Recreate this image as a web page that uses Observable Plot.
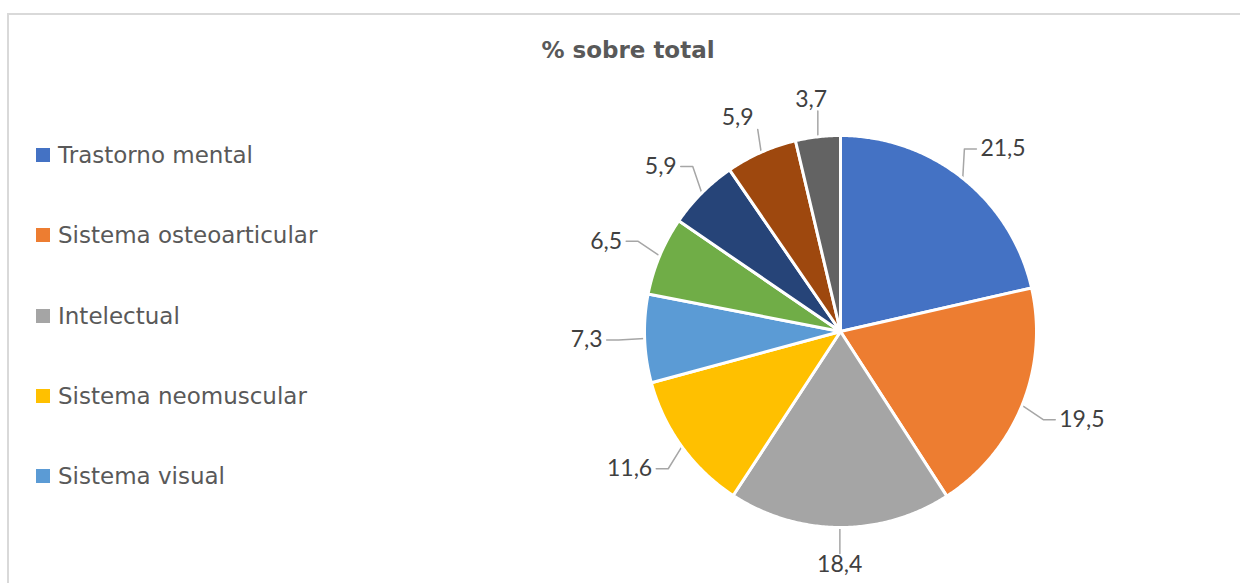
<!DOCTYPE html>
<html><head><meta charset="utf-8">
<script src="https://cdn.jsdelivr.net/npm/d3@7"></script>
<script src="https://cdn.jsdelivr.net/npm/@observablehq/plot@0.6"></script>
<style>
html,body{margin:0;padding:0;background:#fff;}
#wrap{position:relative;width:1240px;height:583px;overflow:hidden;background:#fff;}
#frame{position:absolute;left:7px;top:13px;width:1260px;height:620px;border-left:2px solid #d9d9d9;border-top:2px solid #d9d9d9;box-sizing:border-box;}
#chart{position:absolute;left:0;top:0;}
#title{position:absolute;left:628px;top:37px;transform:translateX(-50%);white-space:nowrap;font-family:"DejaVu Sans",sans-serif;font-weight:bold;font-size:23px;color:#595959;}
.lg{position:absolute;left:36px;display:flex;align-items:center;white-space:nowrap;font-family:"DejaVu Sans",sans-serif;font-size:23px;color:#595959;}
.lg .sw{width:14px;height:14px;margin-right:8px;flex:none;}
</style>
</head><body>
<div id="wrap">
  <div id="frame"></div>
  <div id="chart"></div>
  <div id="title"></div>
  <div id="legend"></div>
</div>
<script>
// ---- data ----
const title = "% sobre total";
const legendLabels = ["Trastorno mental","Sistema osteoarticular","Intelectual","Sistema neomuscular","Sistema visual"];
const values = [21.5, 19.5, 18.4, 11.6, 7.3, 6.5, 5.9, 5.9, 3.7];
const colors = ["#4472C4","#ED7D31","#A5A5A5","#FFC000","#5B9BD5","#70AD47","#264478","#9E480E","#636363"];

// ---- layout ----
const W = 1240, H = 583;
const R = 196;             // pie radius in px
const CX = 840, CY = 331;  // pie centre in px
const fmt = v => v.toFixed(1).replace(".", ",");

const arcs = d3.pie().sort(null).value(d => d)(values);

// slice polygons in unit coordinates (y up, 0 rad at 12 o'clock, clockwise)
const polys = [];
arcs.forEach((a, i) => {
  polys.push({i, x: 0, y: 0});
  const n = Math.max(2, Math.ceil((a.endAngle - a.startAngle) / (Math.PI / 360)));
  for (let k = 0; k <= n; k++) {
    const t = a.startAngle + (a.endAngle - a.startAngle) * k / n;
    polys.push({i, x: Math.sin(t), y: Math.cos(t)});
  }
  polys.push({i, x: 0, y: 0});
});

// labels + leader lines
const labels = [], leaders = [];
const gapX = 42, gapY = 29;
const fs = 23;
arcs.forEach((a, i) => {
  const m = (a.startAngle + a.endAngle) / 2;
  const s = Math.sin(m), c = Math.cos(m);
  const txt = fmt(values[i]);
  const w = (txt.length - 1) * fs * 0.58 + fs * 0.23, h = fs * 0.75;
  const hw = w / 2, hh = h / 2;
  const lx = s * (R + gapX + hw), ly = c * (R + gapY + hh); // px, y up
  labels.push({x: lx / R, y: ly / R, text: txt});
  // leader: from arc edge to label box
  const p0 = {x: s * R, y: c * R};
  const bx0 = lx - hw - 4, bx1 = lx + hw + 4, by0 = ly - hh - 3, by1 = ly + hh + 3;
  const qx = Math.min(Math.max(p0.x, bx0), bx1);
  const qy = Math.min(Math.max(p0.y, by0), by1);
  let pts;
  if (Math.abs(s) > 0.55) {
    const sx = s > 0 ? bx0 : bx1;
    pts = [p0, {x: sx - Math.sign(s) * 12, y: ly}, {x: sx, y: ly}];
  } else {
    pts = [p0, {x: qx, y: qy}];
  }
  pts.forEach(p => leaders.push({i, x: p.x / R, y: p.y / R}));
});

const plot = Plot.plot({
  width: W,
  height: H,
  marginLeft: CX - R,
  marginRight: W - (CX + R),
  marginTop: CY - R,
  marginBottom: H - (CY + R),
  x: {domain: [-1, 1], axis: null},
  y: {domain: [-1, 1], axis: null},
  style: {background: "transparent", overflow: "visible"},
  marks: [
    Plot.line(leaders, {x: "x", y: "y", z: "i", stroke: "#a6a6a6", strokeWidth: 1.5}),
    Plot.line(polys, {x: "x", y: "y", z: "i", fill: d => colors[d.i], stroke: "white", strokeWidth: 3, strokeLinejoin: "round"}),
    Plot.text(labels, {x: "x", y: "y", text: "text", fontFamily: "Lato, 'Open Sans', sans-serif", fontSize: fs, fill: "#404040"})
  ]
});
document.getElementById("chart").appendChild(plot);

document.getElementById("title").textContent = title;
const lg = document.getElementById("legend");
legendLabels.forEach((name, i) => {
  const d = document.createElement("div");
  d.className = "lg";
  d.style.top = (155 + i * 80.3 - 14) + "px";
  d.style.height = "28px";
  const sw = document.createElement("span");
  sw.className = "sw";
  sw.style.background = colors[i];
  const t = document.createElement("span");
  t.textContent = name;
  d.appendChild(sw); d.appendChild(t);
  lg.appendChild(d);
});
</script>
</body></html>
